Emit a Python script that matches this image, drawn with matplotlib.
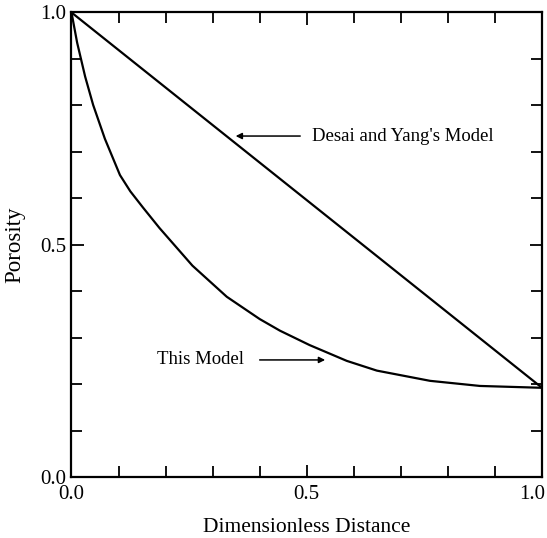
import matplotlib
matplotlib.use("Agg")
import matplotlib.pyplot as plt
import matplotlib.transforms as mtransforms
import numpy as np

# data
x_model = [0.0, 0.012, 0.029, 0.046, 0.071, 0.103, 0.125, 0.152, 0.187, 0.257, 0.330,
           0.40, 0.443, 0.506, 0.585, 0.649, 0.762, 0.868, 1.0]
y_model = [1.0, 0.935, 0.862, 0.801, 0.728, 0.650, 0.615, 0.580, 0.536, 0.455, 0.388,
           0.340, 0.315, 0.284, 0.250, 0.229, 0.207, 0.196, 0.192]
x_desai = [0.0, 1.0]
y_desai = [1.0, 0.192]

plt.rcParams['font.family'] = ['Liberation Serif', 'DejaVu Serif']

fig = plt.figure(figsize=(5.47, 5.38), dpi=100)
ax = fig.add_axes([0.1307, 0.1134, 0.8602, 0.8634])

ax.plot(x_desai, y_desai, color='black', lw=1.6)
ax.plot(x_model, y_model, color='black', lw=1.6)

ax.set_xlim(0, 1)
ax.set_ylim(0, 1)
ax.set_xticks([0, 0.5, 1.0])
ax.set_xticklabels(['0.0', '0.5', '1.0'])
ax.set_yticks([0, 0.5, 1.0])
ax.set_yticklabels(['0.0', '0.5', '1.0'])
ax.set_xticks(np.arange(0, 1.01, 0.1), minor=True)
ax.set_yticks(np.arange(0, 1.01, 0.1), minor=True)
ax.tick_params(which='both', direction='in', top=True, right=True, width=1.3, labelsize=15)
ax.tick_params(which='major', length=9)
ax.tick_params(which='minor', length=8)
ax.tick_params(axis='x', pad=6)
ax.tick_params(axis='y', pad=4)
for s in ax.spines.values():
    s.set_linewidth(1.6)

# keep the last x label inside the picture
last = ax.get_xticklabels()[-1]
last.set_transform(last.get_transform() + mtransforms.ScaledTranslation(-10 / 100, 0, fig.dpi_scale_trans))

ax.set_xlabel('Dimensionless Distance', fontsize=15.5, labelpad=10)
ax.set_ylabel('Porosity', fontsize=16.5)
ax.yaxis.set_label_coords(-0.099, 0.5)

arrow = dict(arrowstyle='-|>', color='black', lw=1.1, mutation_scale=9)
ax.annotate('', xy=(0.343, 0.734), xytext=(0.492, 0.734), arrowprops=arrow)
ax.text(0.511, 0.734, "Desai and Yang's Model", fontsize=13.5, va='center', ha='left')
ax.annotate('', xy=(0.545, 0.252), xytext=(0.394, 0.252), arrowprops=arrow)
ax.text(0.182, 0.252, 'This Model', fontsize=13.5, va='center', ha='left')

fig.savefig('out.png', dpi=100)
